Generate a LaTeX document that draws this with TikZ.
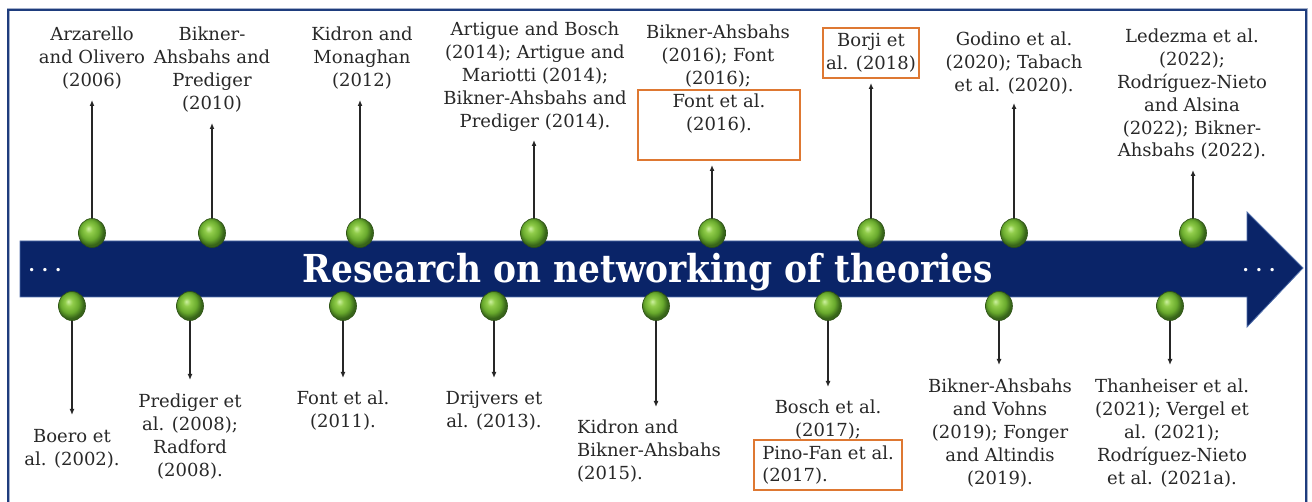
\documentclass[tikz,border=0pt]{standalone}
\usepackage{fontspec}
\usepackage{graphicx}
\setmainfont{DejaVu Serif}
\usetikzlibrary{shapes.geometric,arrows.meta}
\definecolor{navy}{RGB}{10,36,104}
\definecolor{navyedge}{RGB}{80,110,170}
\definecolor{frameblue}{RGB}{30,60,125}
\definecolor{txt}{RGB}{40,40,40}
\definecolor{boxorange}{RGB}{222,120,50}
\definecolor{gA}{RGB}{205,240,160}
\definecolor{gB}{RGB}{145,205,75}
\definecolor{gC}{RGB}{105,170,45}
\definecolor{gD}{RGB}{55,100,25}
\pgfdeclareradialshading{greenball}{\pgfpoint{-7bp}{8bp}}{color(0bp)=(gA); color(7bp)=(gB); color(17bp)=(gC); color(25bp)=(gD); color(50bp)=(gD)}
\tikzset{
  ballnode/.style={ellipse, minimum width=27pt, minimum height=29pt, inner sep=0pt, shade, shading=greenball, draw=gD!80!black, line width=0.6pt},
  conn/.style={-{Latex[length=6pt,width=5pt]}, line width=1.4pt, draw=black!85},
  lbl/.style={align=center, inner sep=0pt, text=txt, font=\fontsize{18}{22.8}\selectfont},
  obox/.style={draw=boxorange, line width=1.6pt, inner sep=0pt},
  dots/.style={text=white, font=\fontsize{18}{20}\selectfont\bfseries, inner sep=0pt, anchor=base},
}
\begin{document}
\begin{tikzpicture}[x=1pt,y=-1pt]
\useasboundingbox (0,0) rectangle (1312,502);
\clip (0,0) rectangle (1312,502);
\fill[white] (0,0) rectangle (1312,502);
% frame (bottom edge lies below the picture)
\draw[frameblue!40, line width=3pt] (8,10) rectangle (1306,520);
\draw[frameblue, line width=1.8pt] (8,10) rectangle (1306,520);
% timeline arrow
\fill[navy, draw=navyedge, line width=0.8pt] (20,241) -- (1247,241) -- (1247,212) -- (1303,268) -- (1247,327) -- (1247,297) -- (20,297) -- cycle;
\node[text=white, font=\fontsize{38.5}{42}\selectfont\bfseries, inner sep=0pt, anchor=base] (title) at (648,283) {\resizebox{690pt}{\height}{Research on networking of theories}};
\node[dots] (dl) at (45,272) {.\hspace{7pt}.\hspace{7pt}.};
\node[dots] (dr) at (1259,272) {.\hspace{7pt}.\hspace{7pt}.};

% upper labels
\node[lbl, anchor=north] (t1) at (92,27) {Arzarello\\and Olivero\\(2006)};
\node[lbl, anchor=north] (t2) at (212,27) {Bikner-\\Ahsbahs and\\Prediger\\(2010)};
\node[lbl, anchor=north] (t3) at (362,27) {Kidron and\\Monaghan\\(2012)};
\node[lbl, anchor=north] (t4) at (535,22) {Artigue and Bosch\\(2014); Artigue and\\Mariotti (2014);\\Bikner-Ahsbahs and\\Prediger (2014).};
\node[lbl, anchor=north] (t5) at (718,25) {Bikner-Ahsbahs\\(2016); Font\\(2016);};
\node[obox, minimum width=162pt, minimum height=70pt] (t5box) at (719,125) {};
\node[lbl, anchor=north] (t5b) at (719,94) {Font et al.\\(2016).};
\node[obox, lbl, minimum width=96pt, minimum height=50pt] (t6) at (871,53) {Borji et\\al. (2018)};
\node[lbl, anchor=north] (t7) at (1014,32) {Godino et al.\\(2020); Tabach\\et al. (2020).};
\node[lbl, anchor=north] (t8) at (1192,29) {Ledezma et al.\\(2022);\\Rodríguez-Nieto\\and Alsina\\(2022); Bikner-\\Ahsbahs (2022).};

% lower labels
\node[lbl, anchor=north] (b1) at (72,429) {Boero et\\al. (2002).};
\node[lbl, anchor=north] (b2) at (190,394) {Prediger et\\al. (2008);\\Radford\\(2008).};
\node[lbl, anchor=north] (b3) at (343,391) {Font et al.\\(2011).};
\node[lbl, anchor=north] (b4) at (494,391) {Drijvers et\\al. (2013).};
\node[lbl, align=left, anchor=north west] (b5) at (577,420) {Kidron and\\Bikner-Ahsbahs\\(2015).};
\node[lbl, anchor=north] (b6) at (828,400) {Bosch et al.\\(2017);};
\node[obox, lbl, align=left, minimum width=148pt, minimum height=50pt] (b6b) at (828,465) {Pino-Fan et al.\\(2017).};
\node[lbl, anchor=north] (b7) at (1000,379) {Bikner-Ahsbahs\\and Vohns\\(2019); Fonger\\and Altindis\\(2019).};
\node[lbl, anchor=north] (b8) at (1172,379) {Thanheiser et al.\\(2021); Vergel et\\al. (2021);\\Rodríguez-Nieto\\et al. (2021a).};

% arrow tips
\coordinate (tu1) at (92,100);
\coordinate (tu2) at (212,123);
\coordinate (tu3) at (360,100);
\coordinate (tu4) at (534,140);
\coordinate (tu5) at (712,165);
\coordinate (tu6) at (871,83);
\coordinate (tu7) at (1014,103);
\coordinate (tu8) at (1193,170);
\coordinate (tl1) at (72,415);
\coordinate (tl2) at (190,380);
\coordinate (tl3) at (343,378);
\coordinate (tl4) at (494,378);
\coordinate (tl5) at (656,407);
\coordinate (tl6) at (828,387);
\coordinate (tl7) at (999,365);
\coordinate (tl8) at (1170,365);

% ball centres
\foreach \i/\x in {1/92,2/212,3/360,4/534,5/712,6/871,7/1014,8/1193}{
  \coordinate (cu\i) at (\x,233);
}
\foreach \i/\x in {1/72,2/190,3/343,4/494,5/656,6/828,7/999,8/1170}{
  \coordinate (cl\i) at (\x,306);
}
\foreach \i in {1,...,8}{
  \draw[conn] (cu\i) -- (tu\i);
  \draw[conn] (cl\i) -- (tl\i);
}
\foreach \i in {1,...,8}{
  \node[ballnode] (u\i) at (cu\i) {};
  \node[ballnode] (l\i) at (cl\i) {};
}
\end{tikzpicture}
\end{document}
